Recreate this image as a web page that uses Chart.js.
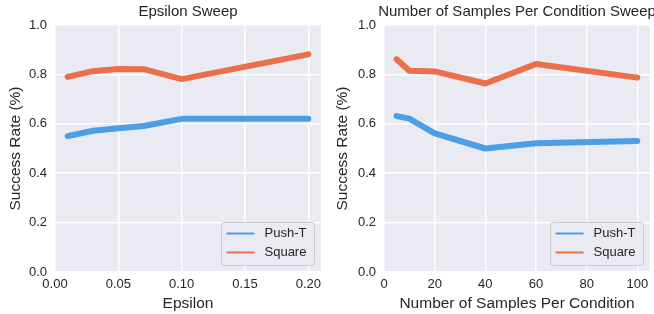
<!DOCTYPE html>
<html>
<head>
<meta charset="utf-8">
<script src="https://cdn.jsdelivr.net/npm/chart.js@4"></script>
<style>
html,body{margin:0;padding:0;background:#fff;}
#wrap{position:relative;width:654px;height:314px;overflow:hidden;}
.pane{position:absolute;top:0;width:327px;height:314px;}
</style>
</head>
<body>
<div id="wrap">
  <div class="pane" style="left:0"><canvas id="c1" width="327" height="314"></canvas></div>
  <div class="pane" style="left:327px"><canvas id="c2" width="327" height="314"></canvas></div>
</div>
<script>
// ---- data ----
const seriesNames = ["Push-T", "Square"];
const epsilonValues = [0.01, 0.03, 0.05, 0.07, 0.10, 0.20];
const epsPushT = [0.55, 0.572, 0.582, 0.591, 0.62, 0.62];
const epsSquare = [0.79, 0.813, 0.822, 0.821, 0.781, 0.881];
const samplesValues = [5, 10, 20, 40, 60, 100];
const smpPushT = [0.631, 0.621, 0.561, 0.50, 0.521, 0.53];
const smpSquare = [0.861, 0.815, 0.812, 0.763, 0.842, 0.787];
const epsTicks = [0, 0.05, 0.10, 0.15, 0.20];
const epsTickLabels = ["0.00", "0.05", "0.10", "0.15", "0.20"];
const smpTicks = [0, 20, 40, 60, 80, 100];
const smpTickLabels = ["0", "20", "40", "60", "80", "100"];
const yTicks = [0, 0.2, 0.4, 0.6, 0.8, 1.0];
const yTickLabels = ["0.0", "0.2", "0.4", "0.6", "0.8", "1.0"];

const COLORS = ["#4c9ee6", "#eb6f4a"];
const TXT = "#262626";
const FONT = "'Liberation Sans', Arial, sans-serif";

const bgPlugin = {
  id: 'bg',
  beforeDraw(chart) {
    const {ctx, chartArea: a} = chart;
    ctx.save();
    ctx.fillStyle = '#eaeaf2';
    ctx.fillRect(a.left, a.top, a.right - a.left, a.bottom - a.top);
    ctx.restore();
  }
};

const titlePlugin = {
  id: 'ptitle',
  afterDraw(chart, args, opts) {
    const {ctx, chartArea: a} = chart;
    ctx.save();
    ctx.font = "15px " + FONT;
    ctx.fillStyle = TXT;
    ctx.textAlign = 'center';
    ctx.textBaseline = 'middle';
    ctx.fillText(opts.text, (a.left + a.right) / 2, 12);
    ctx.restore();
  }
};

const legendPlugin = {
  id: 'plegend',
  afterDraw(chart) {
    const {ctx, chartArea: a} = chart;
    const w = 93, h = 43;
    const x = a.right - 6.5 - w, y = a.bottom - 6.5 - h;
    ctx.save();
    ctx.beginPath();
    if (ctx.roundRect) ctx.roundRect(x, y, w, h, 3); else ctx.rect(x, y, w, h);
    ctx.fillStyle = 'rgba(234,234,242,0.85)';
    ctx.fill();
    ctx.strokeStyle = '#cccccc';
    ctx.lineWidth = 1;
    ctx.stroke();
    ctx.font = "13px " + FONT;
    ctx.textBaseline = 'middle';
    ctx.textAlign = 'left';
    chart.data.datasets.forEach((ds, i) => {
      const ly = y + 11 + i * 19;
      ctx.beginPath();
      ctx.moveTo(x + 5, ly);
      ctx.lineTo(x + 33, ly);
      ctx.strokeStyle = ds.borderColor;
      ctx.lineWidth = 2;
      ctx.stroke();
      ctx.fillStyle = TXT;
      ctx.fillText(ds.label, x + 43, ly);
    });
    ctx.restore();
  }
};

function makeChart(id, xs, ys1, ys2, xmin, xmax, xt, xtl, xTitle, title, yAxisW, padRight) {
  const mk = (ys) => xs.map((x, i) => ({x: x, y: ys[i]}));
  return new Chart(document.getElementById(id), {
    type: 'line',
    data: {
      datasets: [
        {label: seriesNames[0], data: mk(ys1), borderColor: COLORS[0], backgroundColor: COLORS[0]},
        {label: seriesNames[1], data: mk(ys2), borderColor: COLORS[1], backgroundColor: COLORS[1]}
      ]
    },
    options: {
      responsive: false,
      animation: false,
      devicePixelRatio: 1,
      layout: {padding: {top: 25, right: padRight, left: 0, bottom: 0}},
      elements: {
        line: {borderWidth: 6, borderCapStyle: 'round', borderJoinStyle: 'round', tension: 0},
        point: {radius: 0, hoverRadius: 0}
      },
      plugins: {
        legend: {display: false},
        tooltip: {enabled: false},
        title: {display: false},
        ptitle: {text: title}
      },
      scales: {
        x: {
          type: 'linear', min: xmin, max: xmax,
          afterBuildTicks: s => { s.ticks = xt.map(v => ({value: v})); },
          afterFit: s => { s.height = 42; },
          ticks: {
            callback: (v) => { const k = xt.indexOf(v); return k >= 0 ? xtl[k] : ''; },
            font: {size: 13, family: FONT}, color: TXT, padding: 5, maxRotation: 0, autoSkip: false
          },
          grid: {color: '#ffffff', lineWidth: 1.5, drawTicks: false},
          border: {display: false},
          title: {display: true, text: xTitle, font: {size: 15.5, family: FONT}, color: TXT, padding: {top: 0, bottom: 1}}
        },
        y: {
          type: 'linear', min: 0, max: 1,
          afterBuildTicks: s => { s.ticks = yTicks.map(v => ({value: v})); },
          afterFit: s => { s.width = yAxisW; },
          ticks: {
            callback: (v) => { const k = yTicks.findIndex(t => Math.abs(t - v) < 1e-9); return k >= 0 ? yTickLabels[k] : ''; },
            font: {size: 13, family: FONT}, color: TXT, padding: 8, autoSkip: false
          },
          grid: {color: '#ffffff', lineWidth: 1.5, drawTicks: false},
          border: {display: false},
          title: {display: true, text: 'Success Rate (%)', font: {size: 15.5, family: FONT}, color: TXT, padding: {top: 6, bottom: 0}}
        }
      }
    },
    plugins: [bgPlugin, titlePlugin, legendPlugin]
  });
}

makeChart('c1', epsilonValues, epsPushT, epsSquare, 0, 0.21, epsTicks, epsTickLabels, 'Epsilon', 'Epsilon Sweep', 55, 6);
makeChart('c2', samplesValues, smpPushT, smpSquare, 0, 105, smpTicks, smpTickLabels, 'Number of Samples Per Condition', 'Number of Samples Per Condition Sweep', 57, 4);
</script>
</body>
</html>
